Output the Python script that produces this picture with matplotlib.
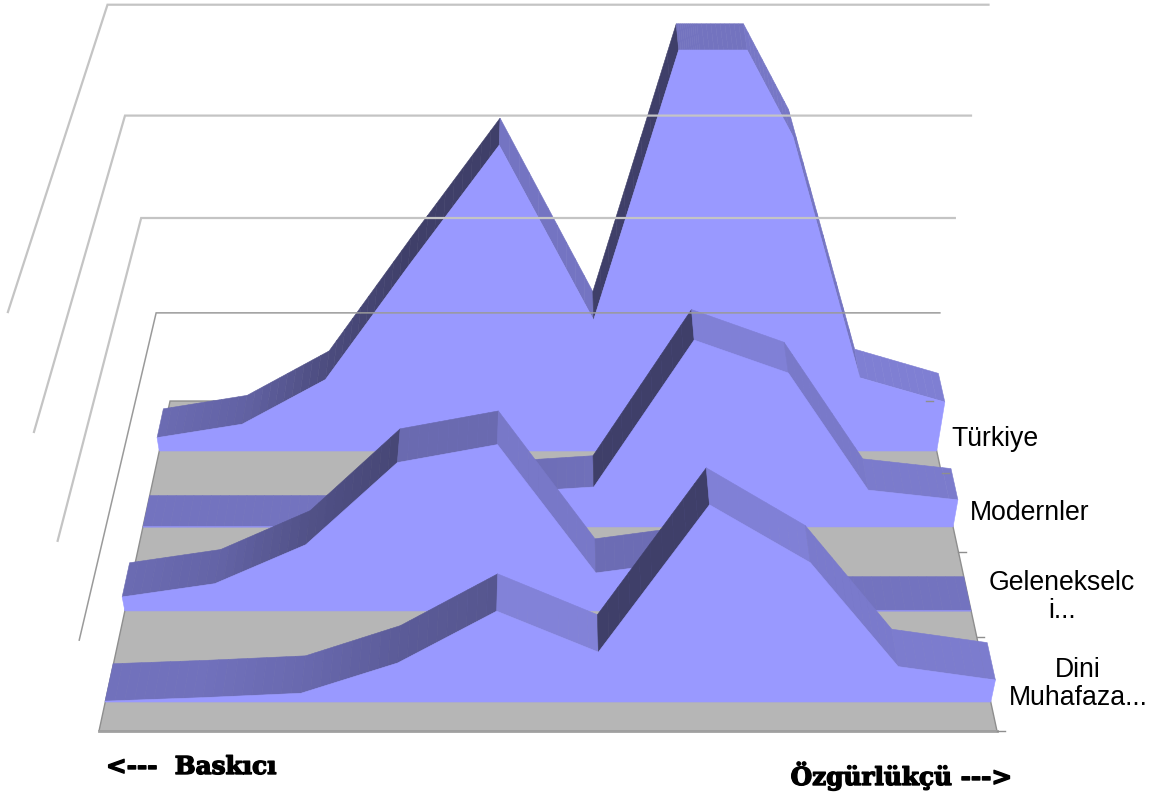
import matplotlib
matplotlib.use("Agg")
import matplotlib.pyplot as plt
import matplotlib.patheffects as pe
import numpy as np

# values, percent per category, one list per series
categories = np.arange(10)
dini = [0.1, 0.5, 1.0, 4.4, 10.0, 5.6, 20.7, 15.0, 4.0, 2.5]
geleneksel = [1.6, 3.1, 7.4, 16.0, 17.8, 4.3, 5.7, 0.0, 0.0, 0.0]
modern = [0.0, 0.0, 0.0, 2.0, 3.9, 4.55, 20.0, 16.7, 4.2, 3.1]
turkiye = [1.55, 3.1, 8.1, 20.0, 31.6, 14.5, 46.7, 32.4, 8.3, 5.6]
labels = ["Dini\nMuhafaza...", "Gelenekselc\ni...", "Modernler", "Türkiye"]
grid_levels = [10, 20, 30, 40]
value_max = 40

# perspective of the 3d chart, worked out from the floor and wall corners
cx, width, y_front = 548.0, 898.0, 731.0
w_depth, w_height = 0.188, -0.1687
y_depth, y_height = -254.6, -471.6
depth_front = [0.075, 0.325, 0.577, 0.825]
thickness = 0.10

body = np.array([153, 153, 255]) / 255.0
floor_color = "#b6b6b6"
edge_color = "#8e8e8e"
grid_color = "#c4c4c4"


def project(u, d, v):
    u, d, v = np.asarray(u, float), np.asarray(d, float), np.asarray(v, float)
    z = v / value_max
    w = 1 + w_depth * d + w_height * z
    x = cx + width * (u / 9.0 - 0.5) / w
    y = (y_front + y_depth * d + y_height * z) / w
    return x, y


def clip_top(u, v):
    # excel cuts the area off at the axis maximum, which gives the flat top
    out_u, out_v = [u[0]], [v[0]]
    for i in range(len(u) - 1):
        if (v[i] - value_max) * (v[i + 1] - value_max) < 0:
            t = (value_max - v[i]) / (v[i + 1] - v[i])
            out_u.append(u[i] + t * (u[i + 1] - u[i]))
            out_v.append(value_max)
        out_u.append(u[i + 1])
        out_v.append(min(v[i + 1], value_max))
    return np.array(out_u), np.array(out_v)


def shade(slope):
    return np.interp(slope, [-17, -11, -4, -1, 0, 1, 3.5, 5.6, 8, 11],
                     [0.76, 0.80, 0.85, 0.80, 0.75, 0.72, 0.63, 0.56, 0.47, 0.41])


def draw_series(ax, values, d0):
    d1 = d0 + thickness
    u, v = clip_top(categories.astype(float), np.array(values, float))
    slopes = np.diff(v) / np.diff(u)
    tones = shade(slopes)
    for i in range(len(u) - 1):
        # soft gradient only between rising parts of a similar tone
        left, right = tones[i], tones[i]
        if i > 0 and slopes[i - 1] > 0 and slopes[i] > 0 and abs(tones[i - 1] - tones[i]) < 0.18:
            left = (tones[i - 1] + tones[i]) / 2
        if i < len(u) - 2 and slopes[i + 1] > 0 and slopes[i] > 0 and abs(tones[i + 1] - tones[i]) < 0.18:
            right = (tones[i + 1] + tones[i]) / 2
        steps = np.linspace(0, 1, 11)
        for a, b in zip(steps[:-1], steps[1:]):
            ua, ub = u[i] + a * (u[i + 1] - u[i]), u[i] + b * (u[i + 1] - u[i])
            va, vb = v[i] + a * (v[i + 1] - v[i]), v[i] + b * (v[i + 1] - v[i])
            xs, ys = project([ua, ub, ub, ua], [d0, d0, d1, d1], [va, vb, vb, va])
            c = body * (left + (right - left) * (a + b) / 2)
            ax.fill(xs, ys, color=c, lw=0.4)
    # front face
    xs, ys = project(np.r_[u, 9, 0], np.full(len(u) + 2, d0), np.r_[v, 0, 0])
    ax.fill(xs, ys, color=body, lw=0.4)


fig = plt.figure(figsize=(11.54, 7.96), dpi=100)
ax = fig.add_axes([0, 0, 1, 1])
ax.set_xlim(0, 1154)
ax.set_ylim(796, 0)
ax.axis("off")

# walls: one line along the side and one along the back for every level
for level in grid_levels:
    xs, ys = project([0, 0, 9], [0, 1, 1], [level, level, level])
    lw = 1.1 if level == grid_levels[0] else 1.6
    col = "#9a9a9a" if level == grid_levels[0] else grid_color
    ax.plot(xs, ys, color=col, lw=lw, solid_joinstyle="miter")

# floor
xs, ys = project([0, 9, 9, 0], [0, 0, 1, 1], [0, 0, 0, 0])
ax.fill(xs, ys, facecolor=floor_color, edgecolor=edge_color, lw=1.0)
xs, ys = project([0, 9], [0, 0], [0, 0])
ax.plot(xs, ys, color="#a0a0a0", lw=2.0)

for values, d0 in reversed(list(zip([dini, geleneksel, modern, turkiye], depth_front))):
    draw_series(ax, values, d0)

# depth axis ticks
for d in [0, 0.25, 0.5, 0.75, 1.0]:
    xs, ys = project([9, 9.08], [d, d], [0, 0])
    ax.plot(xs, ys, color=edge_color, lw=1.0)

label_font = ["Liberation Sans", "DejaVu Sans"]
label_pos = [(1078, 684), (1062, 597), (1030, 513), (995, 439)]
for name, pos in zip(labels, label_pos):
    ax.text(pos[0], pos[1], name, ha="center", va="center", fontsize=19.2,
            family=label_font, linespacing=1.1, color="black")

heavy = ["DejaVu Serif", "DejaVu Sans"]
thick = [pe.withStroke(linewidth=1.0, foreground="black")]
ax.text(106, 767, "<---  Baskıcı", ha="left", va="center", fontsize=17.8,
        family=heavy, weight="heavy", color="black", path_effects=thick)
ax.text(1013, 776, "Özgürlükçü --->", ha="right", va="center", fontsize=17.8,
        family=heavy, weight="heavy", color="black", path_effects=thick)

fig.savefig("out.png", dpi=100)
